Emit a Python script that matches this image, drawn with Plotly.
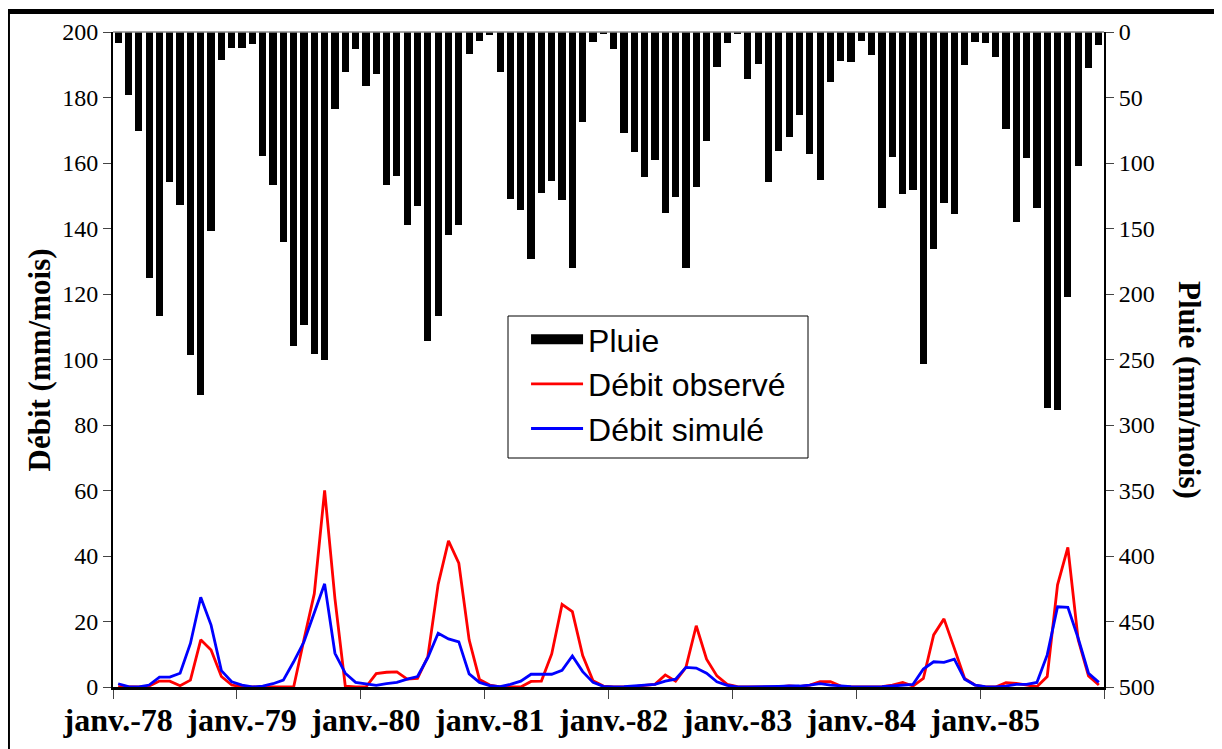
import plotly.graph_objects as go

years = ["78", "79", "80", "81", "82", "83", "84", "85"]
months = list(range(96))
tick_labels = ["janv.-" + y for y in years]

pluie = [
    8.2, 48, 75.6, 187.5, 217, 114.8, 132, 246.6, 277, 151.6, 21.4, 12.5,
    12.5, 9.2, 94.7, 116.8, 160, 239.4, 224, 246, 250.4, 59, 30.8, 13,
    41, 32.3, 117, 109.7, 147.3, 133, 235.6, 216.8, 155, 147.3, 17, 6.6,
    2.5, 30.3, 127.5, 135.9, 173.3, 123, 113.7, 128.2, 180.4, 68.4, 7.9, 1.5,
    13.2, 77.4, 91.4, 110.4, 97.7, 137.9, 125.7, 180.4, 118, 83, 27, 8.7,
    1, 36, 24.4, 114.2, 90.6, 80.4, 63.4, 93, 113, 38.4, 21.9, 22.6,
    6.9, 17.6, 134.6, 95.2, 123.7, 120.6, 253.4, 165.6, 130.8, 139, 25.2, 7.4,
    8.2, 18.8, 74.3, 145.3, 96.4, 134, 287.3, 288.5, 202.5, 102, 27.7, 9.9,
]

debit_observe = [
    0.1, 0, 0, 0.3, 1.8, 1.8, 0.4, 2.1, 14.4, 11.3, 3.2, 0.6,
    0.1, 0, 0, 0, 0, 0, 14.5, 28.5, 60, 27, 0.3, 0,
    0, 4.1, 4.5, 4.6, 2.4, 2.6, 9.3, 31.4, 44.6, 37.8, 14.4, 2.3,
    0.6, 0, 0, 0, 1.7, 1.8, 10.1, 25.2, 23, 9.6, 1.9, 0.3,
    0, 0, 0.1, 0.5, 0.8, 3.7, 1.8, 6.0, 18.7, 8.5, 3.4, 0.8,
    0.1, 0, 0, 0, 0, 0.3, 0.1, 0.6, 1.6, 1.6, 0.3, 0,
    0, 0, 0.1, 0.6, 1.4, 0.3, 2.6, 15.9, 20.8, 11.8, 2.6, 0.6,
    0, 0, 1.3, 1.1, 0.6, 0.1, 3.2, 31.2, 42.6, 14.4, 3.4, 0.6,
]

debit_simule = [
    1.0, 0.1, 0, 0.6, 3.0, 3.0, 4.2, 13.3, 27.4, 18.9, 5.0, 1.6,
    0.6, 0, 0.3, 1.0, 2.1, 7.7, 13.8, 23, 31.5, 10.3, 4.2, 1.4,
    1.0, 0.5, 1.0, 1.4, 2.4, 3.2, 9, 16.4, 14.7, 13.8, 4.0, 1.4,
    0.4, 0.1, 0.8, 1.8, 3.9, 3.9, 3.9, 5.1, 9.5, 4.7, 1.4, 0.2,
    0, 0.1, 0.3, 0.6, 0.8, 1.8, 2.4, 6.0, 5.8, 4.2, 1.6, 0.5,
    0, 0, 0, 0.2, 0.2, 0.3, 0.3, 0.6, 1.0, 0.6, 0.3, 0.1,
    0, 0, 0.1, 0.3, 0.5, 0.8, 5.5, 7.7, 7.5, 8.5, 2.4, 0.6,
    0.1, 0, 0.3, 0.8, 0.8, 1.4, 9.8, 24.5, 24.3, 14.9, 4.2, 1.4,
]

label_pos = [12 * k for k in range(len(years))]
boundary_pos = [12 * k - 0.5 for k in range(len(years) + 1)]
xr = [-0.5, len(months) - 0.5]

serif = "Liberation Serif"
sans = "Liberation Sans"

fig = go.Figure()
fig.add_trace(go.Bar(x=months, y=pluie, xaxis="x2", yaxis="y2", width=0.7,
                     marker=dict(color="black", line=dict(width=0)),
                     name="Pluie", showlegend=False, legendgroup="a"))
fig.add_trace(go.Scatter(x=[None], y=[None], mode="lines", name="Pluie",
                         line=dict(color="black", width=16), legendgroup="a"))
fig.add_trace(go.Scatter(x=months, y=debit_observe, mode="lines", name="Débit observé",
                         line=dict(color="#FF0000", width=2.8), legendgroup="b"))
fig.add_trace(go.Scatter(x=months, y=debit_simule, mode="lines", name="Débit simulé",
                         line=dict(color="#0000FF", width=2.8), legendgroup="c"))

fig.update_layout(
    width=1222, height=749, autosize=False,
    margin=dict(l=105, r=126, t=24, b=70, pad=0),
    paper_bgcolor="white", plot_bgcolor="white",
    xaxis=dict(range=xr, tickvals=boundary_pos, showticklabels=False,
               ticks="outside", ticklen=9, tickcolor="#444", tickwidth=1,
               showline=True, linecolor="black", linewidth=3,
               showgrid=False, zeroline=False, anchor="y"),
    xaxis2=dict(range=xr, overlaying="x", anchor="y2", side="bottom",
                tickvals=label_pos, ticktext=tick_labels, ticks="",
                tickfont=dict(family=serif, size=32, color="black", weight="bold"),
                ticklabelstandoff=11,
                showline=False, showgrid=False, zeroline=False),
    yaxis=dict(range=[0, 200], dtick=20, ticks="outside", ticklen=8,
               tickcolor="#444", tickwidth=1,
               tickfont=dict(family=serif, size=24, color="black"),
               showline=True, linecolor="black", linewidth=2,
               showgrid=False, zeroline=False),
    yaxis2=dict(range=[500, 0], dtick=50, overlaying="y", side="right", anchor="x2",
                ticks="outside", ticklen=8, tickcolor="#444", tickwidth=1,
                tickfont=dict(family=serif, size=24, color="black"),
                showline=True, linecolor="black", linewidth=2,
                showgrid=False, zeroline=False),
    legend=dict(x=0.4168, y=0.5725, xanchor="left", yanchor="top",
                bgcolor="rgba(0,0,0,0)", borderwidth=0,
                font=dict(family=sans, size=32, color="black"),
                itemwidth=52, tracegroupgap=0),
    showlegend=True,
    bargap=0,
)

fig.add_annotation(text="<b>Débit (mm/mois)</b>", xref="paper", yref="paper",
                   x=-0.0737, y=0.5, textangle=-90, showarrow=False,
                   xanchor="center", yanchor="middle",
                   font=dict(family=serif, size=31, color="black"))
fig.add_annotation(text="<b>Pluie (mm/mois)</b>", xref="paper", yref="paper",
                   x=1.0868, y=0.4534, textangle=90, showarrow=False,
                   xanchor="center", yanchor="middle",
                   font=dict(family=serif, size=31, color="black"))

# plot-area top border
fig.add_shape(type="line", xref="paper", yref="paper", x0=0, x1=1, y0=1, y1=1,
              line=dict(color="#888888", width=1.5))
# legend box
fig.add_shape(type="rect", xref="paper", yref="paper",
              x0=(508 - 113) / 991, x1=(808 - 113) / 991,
              y0=(687 - 458) / 655, y1=(687 - 316) / 655,
              line=dict(color="black", width=1), fillcolor="white", layer="above")
# chart-area frame
fig.add_shape(type="rect", xref="paper", yref="paper",
              x0=-0.1065, x1=1.1160, y0=-0.12, y1=1.0313,
              line=dict(color="black", width=5))

fig.write_html("out.html")
